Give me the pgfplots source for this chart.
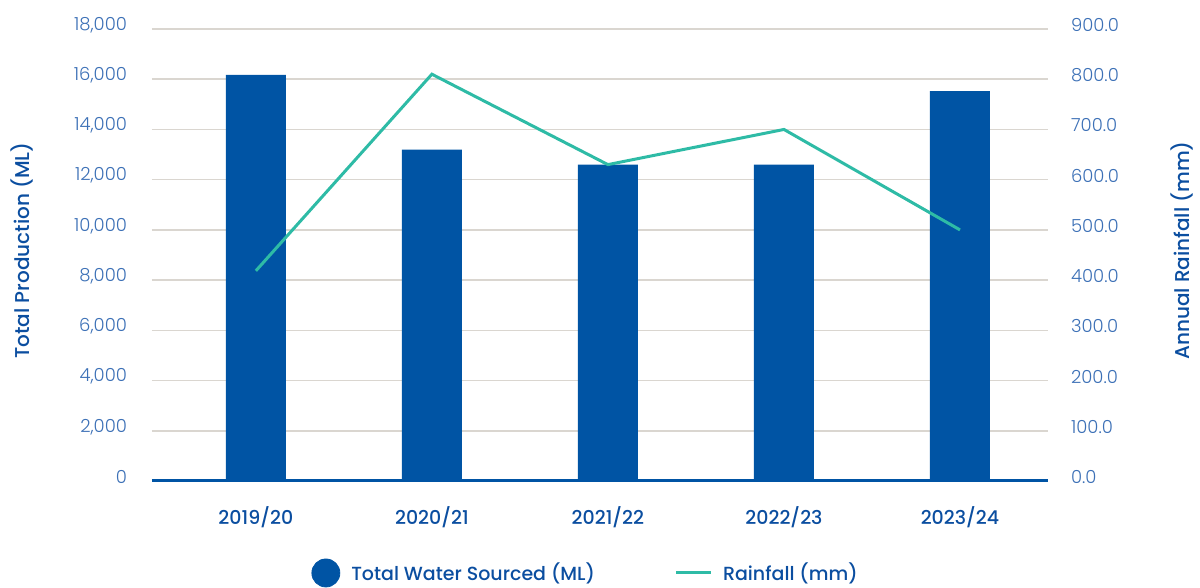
\documentclass[border=0pt]{standalone}
\usepackage{pgfplots}
\pgfplotsset{compat=1.18}
\usepackage{fontspec}
\setmainfont{Poppins}[UprightFont=*-Light, BoldFont=*-Medium]
\definecolor{barblue}{HTML}{0054A4}
\definecolor{labblue}{HTML}{0B4EA0}
\definecolor{tickblue}{HTML}{3C70B6}
\definecolor{teal}{HTML}{2EBBA6}
\definecolor{gridc}{HTML}{DAD6D0}
\begin{document}
\begin{tikzpicture}
\useasboundingbox (0,0) rectangle (600pt,294pt);
\begin{axis}[
  scale only axis, width=448pt, height=226pt,
  at={(76pt,53.5pt)}, anchor=south west,
  xmin=-0.59, xmax=4.5, ymin=0, ymax=18000,
  axis y line*=left, axis x line*=bottom,
  y axis line style={draw=none},
  x axis line style={draw=barblue, line width=1.5pt, -},
  major tick length=0pt,
  ytick distance=2000,
  scaled y ticks=false,
  ymajorgrids, grid style={gridc, line width=0.8pt},
  xtick={0,1,2,3,4},
  xticklabels={2019/20,2020/21,2021/22,2022/23,2023/24},
  xticklabel style={font=\bfseries\fontsize{9.5}{11}\selectfont, text=labblue, anchor=center, yshift=-18pt},
  yticklabel style={font=\fontsize{9}{10}\selectfont, text=tickblue, anchor=east, xshift=-9pt, yshift=2pt},
  /pgf/number format/assume math mode=true,
  /pgf/number format/.cd, fixed, 1000 sep={,}, /pgfplots/.cd,
  ylabel={Total Production (ML)},
  ylabel style={at={(axis description cs:-0.145,0.51)}, anchor=center, font=\bfseries\fontsize{10}{12}\selectfont, text=labblue},
]
\addplot[ybar, bar width=30pt, fill=barblue, draw=none] coordinates {
  (0,16170) (1,13200) (2,12600) (3,12600) (4,15530)
};
\end{axis}
\begin{axis}[
  scale only axis, width=448pt, height=226pt,
  at={(76pt,53.5pt)}, anchor=south west,
  xmin=-0.59, xmax=4.5, ymin=0, ymax=900,
  axis y line*=right, axis x line=none,
  y axis line style={draw=none},
  major tick length=0pt,
  ytick distance=100,
  scaled y ticks=false,
  yticklabel style={font=\fontsize{9}{10}\selectfont, text=tickblue, anchor=west, xshift=8pt, yshift=2pt},
  /pgf/number format/assume math mode=true,
  /pgf/number format/.cd, fixed, fixed zerofill, precision=1, 1000 sep={}, /pgfplots/.cd,
  ylabel={Annual Rainfall (mm)},
  ylabel style={at={(axis description cs:1.1496,0.51)}, anchor=center, rotate=0, font=\bfseries\fontsize{10}{12}\selectfont, text=labblue},
  legend style={at={(axis description cs:0.485,-0.2035)}, anchor=center, legend columns=2, draw=none, fill=none,
    font=\bfseries\fontsize{9.5}{11}\selectfont, text=labblue,
    /tikz/every odd column/.append style={column sep=3.5pt},
    /tikz/every even column/.append style={column sep=38pt}},
]
\addlegendimage{legend image code/.code={\fill[barblue] (0.3cm,0) circle (7pt);}}
\addlegendentry{Total Water Sourced (ML)}
\addplot[teal, line width=1.5pt, mark=none] coordinates {
  (0,418.5) (1,810) (2,630) (3,700) (4,500)
};
\addlegendentry{Rainfall (mm)}
\end{axis}
\end{tikzpicture}
\end{document}
